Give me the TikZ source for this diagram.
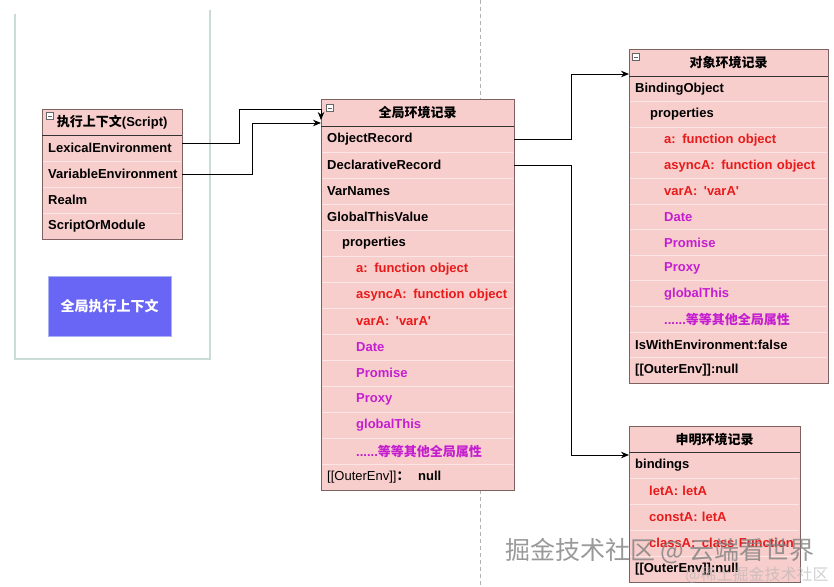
\documentclass[tikz,border=0pt]{standalone}
\usepackage{fontspec}
\setmainfont{Liberation Sans}
\newfontfamily\cjk{Noto Sans CJK SC}
\usetikzlibrary{arrows.meta,calc}
\definecolor{pinkfill}{HTML}{F8CECC}
\definecolor{pinkedge}{HTML}{7E6262}
\definecolor{rowline}{HTML}{FBE6E5}
\definecolor{redtxt}{HTML}{E81A1A}
\definecolor{purtxt}{HTML}{C41ED0}
\definecolor{frameline}{HTML}{C9DCD8}
\definecolor{bluefill}{HTML}{6A66F5}
\definecolor{blueedge}{HTML}{A9B2F2}
\newcommand\zh[1]{{\cjk #1}}
\newcommand\rowtext[2]{\mbox{\hspace*{#1}#2}}
\begin{document}
\begin{tikzpicture}[x=1pt,y=-1pt,
  txt/.style={font=\bfseries\fontsize{13}{15}\selectfont},
  tbl/.style={draw=pinkedge, fill=pinkfill, line width=0.9pt, anchor=north west, inner sep=0},
  hdr/.style={txt, anchor=north west, inner sep=0, align=center},
  row/.style={txt, anchor=north west, inner xsep=6pt, inner ysep=0, align=left},
  hline/.style={draw=black!80, line width=0.9pt},
  sepline/.style={draw=rowline, line width=1pt},
  rd/.style={text=redtxt},
  pu/.style={text=purtxt},
  collapse/.style={draw=black!60, fill=white, minimum width=7pt, minimum height=7pt, inner sep=0, line width=0.6pt,
    path picture={\draw[line width=0.7pt] ([xshift=1.5pt]path picture bounding box.west) -- ([xshift=-1.5pt]path picture bounding box.east);}},
  conn/.style={draw=black, line width=0.9pt, -{Stealth[length=8pt,width=6.5pt]}},
  frame/.style={draw=frameline, line width=1.3pt},
  dashline/.style={draw=black!30, line width=0.7pt, dash pattern=on 4pt off 3pt},
  bluebox/.style={draw=blueedge, fill=bluefill, line width=1pt, text=white, minimum width=123pt, minimum height=60pt,
    font=\cjk\bfseries\fontsize{14}{16}\selectfont},
  wm/.style={text=black!50, opacity=0.8, font=\cjk\fontsize{25}{27}\selectfont},
  wmb/.style={text=black!30, opacity=0.6, font=\cjk\fontsize{16}{18}\selectfont}
]
\useasboundingbox (0,0) rectangle (834,586);
\fill[white] (0,0) rectangle (834,586);

% background guides
\draw[dashline] (480,0) -- (480,586);
\draw[frame] (15,14) -- (15,359) -- (210,359) -- (210,10);

% ---------- Table 1: 执行上下文(Script) ----------
\node[tbl, minimum width=140pt, minimum height=130pt] (t1) at (42,109) {};
\node[hdr, minimum width=140pt, minimum height=26pt] (t1h) at (42,109) {\zh{执行上下文}(Script)};
\draw[hline] (t1h.south west) -- (t1h.south east);
\foreach \yy in {161,187,213} \draw[sepline] (43,\yy) -- (181,\yy);
\tikzset{r1/.style={row, text width=128pt, minimum height=26pt}}
\node[r1] (le) at (42,135) {\rowtext{0pt}{LexicalEnvironment}};
\node[r1] (ve) at (42,161) {\rowtext{0pt}{VariableEnvironment}};
\node[r1] (realm) at (42,187) {\rowtext{0pt}{Realm}};
\node[r1] (som) at (42,213) {\rowtext{0pt}{ScriptOrModule}};
\node[collapse] (ic1) at (50,116) {};

% blue box
\node[bluebox] (gec) at (109.5,306) {全局执行上下文};

% ---------- Table 2: 全局环境记录 ----------
\node[tbl, minimum width=193pt, minimum height=391pt] (t2) at (321,99) {};
\node[hdr, minimum width=193pt, minimum height=27pt] (t2h) at (321,99) {\zh{全局环境记录}};
\draw[hline] (t2h.south west) -- (t2h.south east);
\foreach \k in {1,...,13} \draw[sepline] (322,126+26*\k) -- (513,126+26*\k);
\tikzset{r2/.style={row, text width=181pt, minimum height=26pt}}
\node[r2] (objrec) at (321,126) {\rowtext{0pt}{ObjectRecord}};
\node[r2] (declrec) at (321,152) {\rowtext{0pt}{DeclarativeRecord}};
\node[r2] (varnames) at (321,178) {\rowtext{0pt}{VarNames}};
\node[r2] (gtv) at (321,204) {\rowtext{0pt}{GlobalThisValue}};
\node[r2] (props2) at (321,230) {\rowtext{15pt}{properties}};
\node[r2, rd] (a2) at (321,256) {\rowtext{29pt}{a:\enspace function object}};
\node[r2, rd] (asynca2) at (321,282) {\rowtext{29pt}{asyncA:\enspace function object}};
\node[r2, rd] (vara2) at (321,308) {\rowtext{29pt}{varA:\enspace\textquotesingle varA\textquotesingle}};
\node[r2, pu] (date2) at (321,334) {\rowtext{29pt}{Date}};
\node[r2, pu] (promise2) at (321,360) {\rowtext{29pt}{Promise}};
\node[r2, pu] (proxy2) at (321,386) {\rowtext{29pt}{Proxy}};
\node[r2, pu] (gt2) at (321,412) {\rowtext{29pt}{globalThis}};
\node[r2, pu] (etc2) at (321,438) {\rowtext{29pt}{......\zh{等等其他全局属性}}};
\node[r2] (outer2) at (321,464) {\rowtext{0pt}{{\mdseries[[OuterEnv]]}\zh{：}\ \ null}};
\node[collapse] (ic2) at (330,108) {};

% ---------- Table 3: 对象环境记录 ----------
\node[tbl, minimum width=199pt, minimum height=334.2pt] (t3) at (629,49) {};
\node[hdr, minimum width=199pt, minimum height=27pt] (t3h) at (629,49) {\zh{对象环境记录}};
\draw[hline] (t3h.south west) -- (t3h.south east);
\foreach \k in {1,...,11} \draw[sepline] (630,76+25.6*\k) -- (827,76+25.6*\k);
\tikzset{r3/.style={row, text width=187pt, minimum height=25.6pt}}
\node[r3] (bind3) at (629,76) {\rowtext{0pt}{BindingObject}};
\node[r3] (props3) at (629,101.6) {\rowtext{15pt}{properties}};
\node[r3, rd] (a3) at (629,127.2) {\rowtext{29pt}{a:\enspace function object}};
\node[r3, rd] (asynca3) at (629,152.8) {\rowtext{29pt}{asyncA:\enspace function object}};
\node[r3, rd] (vara3) at (629,178.4) {\rowtext{29pt}{varA:\enspace\textquotesingle varA\textquotesingle}};
\node[r3, pu] (date3) at (629,204) {\rowtext{29pt}{Date}};
\node[r3, pu] (promise3) at (629,229.6) {\rowtext{29pt}{Promise}};
\node[r3, pu] (proxy3) at (629,255.2) {\rowtext{29pt}{Proxy}};
\node[r3, pu] (gt3) at (629,280.8) {\rowtext{29pt}{globalThis}};
\node[r3, pu] (etc3) at (629,306.4) {\rowtext{29pt}{......\zh{等等其他全局属性}}};
\node[r3] (iswith3) at (629,332) {\rowtext{0pt}{IsWithEnvironment:false}};
\node[r3] (outer3) at (629,357.6) {\rowtext{0pt}{[[OuterEnv]]:null}};
\node[collapse] (ic3) at (636,57) {};

% ---------- Table 4: 申明环境记录 ----------
\node[tbl, minimum width=171pt, minimum height=156pt] (t4) at (629,426) {};
\node[hdr, minimum width=171pt, minimum height=26pt] (t4h) at (629,426) {\zh{申明环境记录}};
\draw[hline] (t4h.south west) -- (t4h.south east);
\foreach \k in {1,...,4} \draw[sepline] (630,452+26*\k) -- (799,452+26*\k);
\tikzset{r4/.style={row, text width=159pt, minimum height=26pt}}
\node[r4] (bindings4) at (629,452) {\rowtext{0pt}{bindings}};
\node[r4, rd] (leta4) at (629,478) {\rowtext{14pt}{letA: letA}};
\node[r4, rd] (consta4) at (629,504) {\rowtext{14pt}{constA: letA}};
\node[r4, rd] (classa4) at (629,530) {\rowtext{14pt}{classA:\enspace class Function}};
\node[r4] (outer4) at (629,556) {\rowtext{0pt}{[[OuterEnv]]:null}};

% ---------- connectors ----------
\coordinate (c1) at (239,109);
\coordinate (c2) at (252,123);
\coordinate (c3) at (571,74);
\coordinate (c4) at (571,455);
\draw[conn] ([yshift=5pt]le.east) -| (c1) -| ($(t2h.north west)+(0,21)$);
\draw[conn] (ve.east) -| (c2) -- (c2 -| t2h.west);
\draw[conn] (objrec.east) -| (c3) -- (c3 -| t3h.west);
\draw[conn] (declrec.east) -| (c4) -- (c4 -| t4h.west);

% ---------- watermark ----------
\node[wmb] (wm2) at (757,575) {@稀土掘金技术社区};
\node[wm] (wm1) at (660,551) {掘金技术社区 @ 云端看世界};
\end{tikzpicture}
\end{document}
